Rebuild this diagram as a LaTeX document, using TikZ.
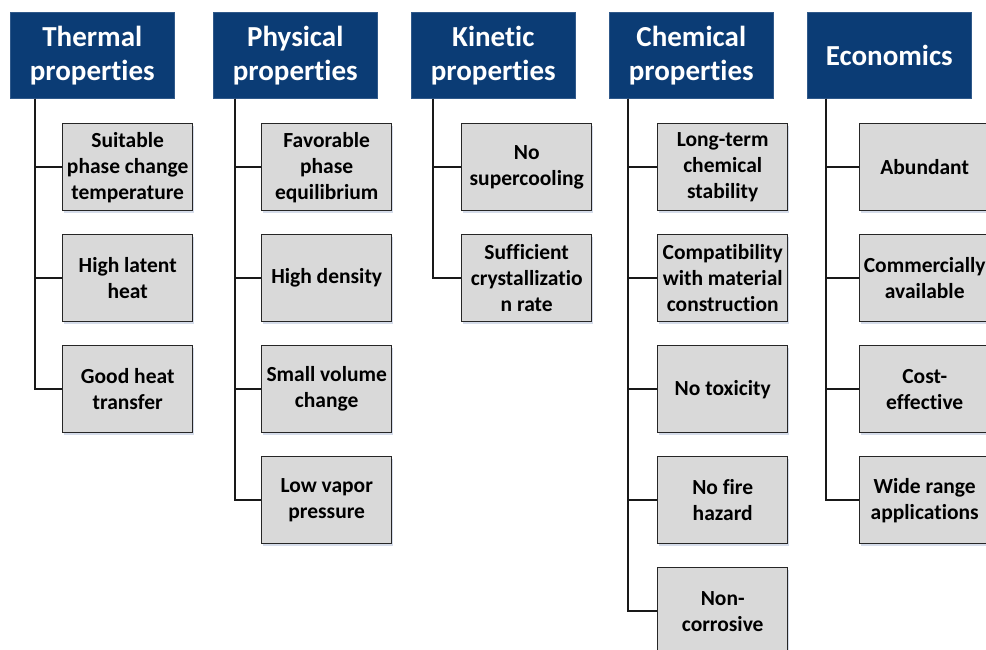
\documentclass[tikz,border=0pt]{standalone}
\usepackage{fontspec}
\setmainfont[Ligatures={NoCommon}]{Carlito}
\usetikzlibrary{calc,shadows}
\definecolor{hdr}{RGB}{11,60,117}
\definecolor{cbox}{RGB}{217,217,217}
\definecolor{shd}{RGB}{195,205,225}
\begin{document}
\begin{tikzpicture}[x=1pt,y=-1pt,
 hdrbox/.style={fill=hdr, draw=hdr!85!white, line width=0.6pt, minimum width=164pt, minimum height=86pt, anchor=north west, inner sep=0pt, align=center, text=white, font=\fontsize{29}{34}\selectfont\bfseries},
 childbox/.style={fill=cbox, draw=black!85, line width=1.4pt, minimum width=130pt, minimum height=87pt, anchor=north west, inner sep=0pt, align=center, font=\fontsize{21.5}{26}\selectfont\bfseries,
   drop shadow={shadow xshift=1pt, shadow yshift=-2.5pt, fill=shd, opacity=0.7}},
 link/.style={draw=black!90, line width=1.6pt}]
\useasboundingbox (0,0) rectangle (986,650);
\clip (0,0) rectangle (986,650);
% headers
\node[hdrbox] (th) at (10,12) {Thermal\\properties};
\node[hdrbox] (ph) at (213,12) {Physical\\properties};
\node[hdrbox] (ki) at (411,12) {Kinetic\\properties};
\node[hdrbox] (ch) at (609,12) {Chemical\\properties};
\node[hdrbox] (ec) at (807,12) {Economics};
% trunk coordinates
\coordinate (thv) at ($(th.south west)+(25,0)$);
\coordinate (phv) at ($(ph.south west)+(22,0)$);
\coordinate (kiv) at ($(ki.south west)+(22,0)$);
\coordinate (chv) at ($(ch.south west)+(19,0)$);
\coordinate (ecv) at ($(ec.south west)+(19,0)$);
% thermal
\node[childbox] (t1) at (62,123) {Suitable\\phase change\\temperature};
\node[childbox] (t2) at (62,234) {High latent\\heat};
\node[childbox] (t3) at (62,345) {Good heat\\transfer};
% physical
\node[childbox] (p1) at (261,123) {Favorable\\phase\\equilibrium};
\node[childbox] (p2) at (261,234) {High density};
\node[childbox] (p3) at (261,345) {Small volume\\change};
\node[childbox] (p4) at (261,456) {Low vapor\\pressure};
% kinetic
\node[childbox] (k1) at (461,123) {No\\supercooling};
\node[childbox] (k2) at (461,234) {Sufficient\\crystallizatio\\n rate};
% chemical
\node[childbox] (c1) at (657,123) {Long-term\\chemical\\stability};
\node[childbox] (c2) at (657,234) {Compatibility\\with material\\construction};
\node[childbox] (c3) at (657,345) {No toxicity};
\node[childbox] (c4) at (657,456) {No fire\\hazard};
\node[childbox] (c5) at (657,567) {Non-\\corrosive};
% economics
\node[childbox] (e1) at (859,123) {Abundant};
\node[childbox] (e2) at (859,234) {Commercially\\available};
\node[childbox] (e3) at (859,345) {Cost-\\effective};
\node[childbox] (e4) at (859,456) {Wide range\\applications};
% connectors
\foreach \c in {t1,t2,t3} \draw[link] (thv) |- (\c.west);
\foreach \c in {p1,p2,p3,p4} \draw[link] (phv) |- (\c.west);
\foreach \c in {k1,k2} \draw[link] (kiv) |- (\c.west);
\foreach \c in {c1,c2,c3,c4,c5} \draw[link] (chv) |- (\c.west);
\foreach \c in {e1,e2,e3,e4} \draw[link] (ecv) |- (\c.west);
\end{tikzpicture}
\end{document}
